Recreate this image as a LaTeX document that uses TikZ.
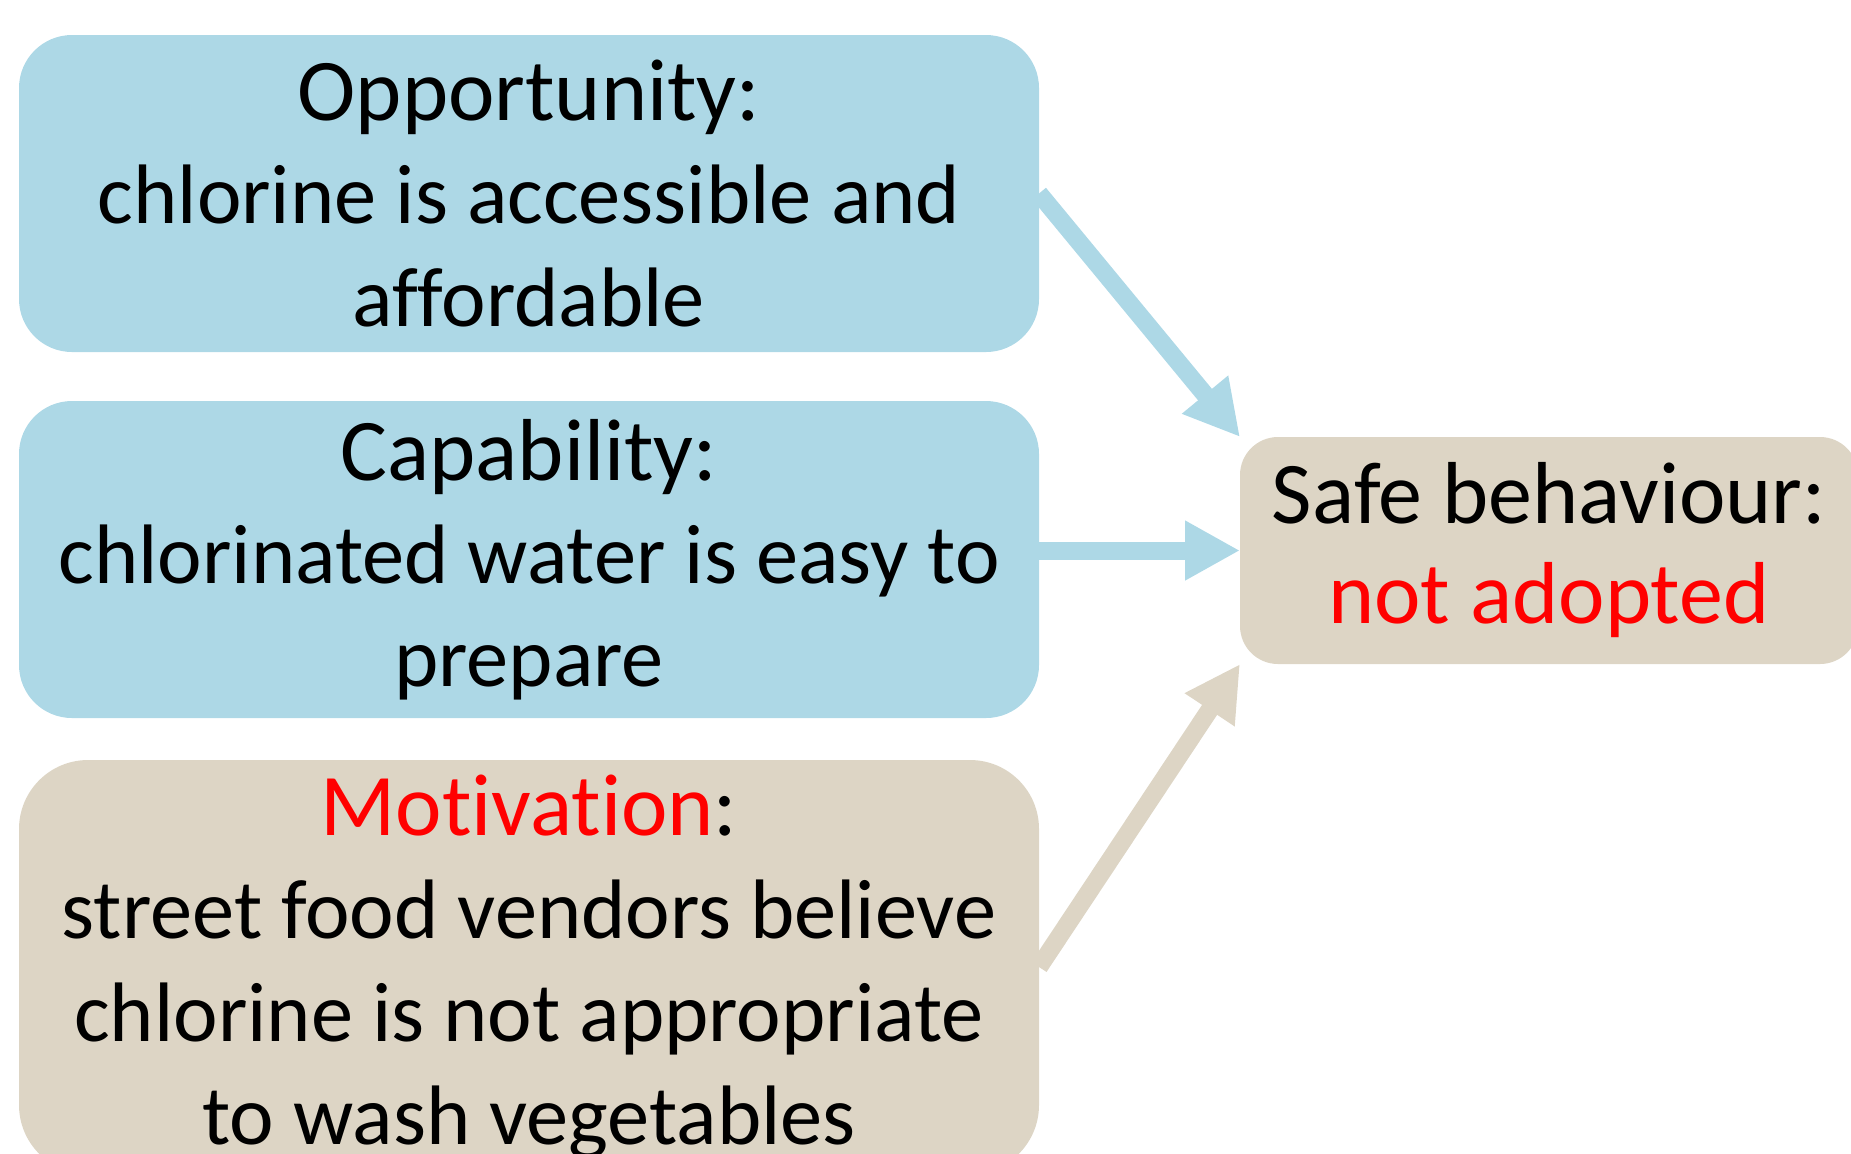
\documentclass[tikz,border=0pt]{standalone}
\usepackage{fontspec}
\setmainfont{Carlito}[Ligatures=NoCommon]
\usetikzlibrary{positioning}
\usetikzlibrary{arrows.meta}

\definecolor{comblue}{HTML}{ADD8E6}
\definecolor{comtan}{HTML}{DDD5C5}
\newcommand{\comhead}[1]{{\fontsize{44}{51.5}\selectfont #1}}

\begin{document}
\begin{tikzpicture}[x=0.5pt, y=-0.5pt,
    com/.style={rounded corners=26.5pt, minimum width=510pt, minimum height=158.5pt,
      text width=500pt, align=flush center, inner sep=0pt, outer sep=0pt,
      font=\fontsize{42.2}{51.5}\selectfont},
    link/.style={line width=9pt, -{Triangle[length=27.5pt,width=28pt]}}]

    \useasboundingbox (0,0) rectangle (1851,1153);
    \clip (0,0) rectangle (1851,1153);

    % COM-B boxes
    \node[com, fill=comblue] at (529,193.5) (opp)
      {\comhead{Opportunity:}\\chlorine is accessible and\\affordable};
    \node[com, fill=comblue, below=24.5pt of opp] (cap)
      {\comhead{Capability:}\\chlorinated water is easy to\\prepare};
    \node[com, fill=comtan, below=21pt of cap, minimum height=207pt,
          rounded corners=34.5pt] (mot)
      {\comhead{\textcolor{red}{Motivation}:}\\street food vendors believe\\chlorine is not appropriate\\to wash vegetables};
    % behaviour
    \node[com, fill=comtan, right=100.5pt of cap, yshift=4.5pt, minimum width=309pt,
          minimum height=113.5pt, text width=300pt, rounded corners=19pt,
          font=\fontsize{44}{50}\selectfont] (safe)
      {Safe behaviour:\\\textcolor{red}{not adopted}};

    % arrows
    \draw[link, comblue] (opp.east) -- (safe.north west);
    \draw[link, comblue] (cap.east |- safe.west) -- (safe.west);
    \draw[link, comtan] (mot.east) -- (safe.south west);
\end{tikzpicture}
\end{document}
